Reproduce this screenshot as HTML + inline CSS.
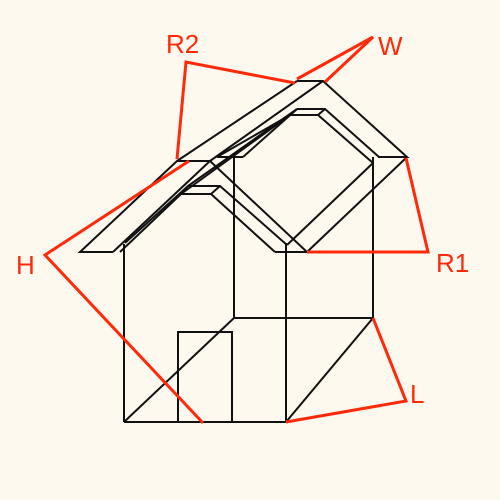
<!DOCTYPE html>
<html><head><meta charset="utf-8">
<style>
html,body{margin:0;padding:0;background:#fef9ee;}
svg{display:block;}
text{font-family:"Liberation Sans",sans-serif;font-size:26px;fill:#ff2a0a;}
</style></head>
<body>
<svg width="500" height="500" viewBox="0 0 500 500">
<rect width="500" height="500" fill="#fef9ee"/>
<g stroke="#111" stroke-width="2" fill="none" stroke-linejoin="miter">
  <polyline points="113,252 80,252 177,161 210,161 307,252 275,252"/>
  <line x1="113" y1="252" x2="210" y2="161"/>
  <line x1="177" y1="161" x2="297" y2="81"/>
  <line x1="210" y1="161" x2="323" y2="81"/>
  <polyline points="297,81 323,81 407,157 378,157"/>
  <polyline points="297,109 325,109 379,157"/>
  <polyline points="297,109 290,115 318,115 373,163"/>
  <line x1="325" y1="109" x2="318" y2="115"/>
  <line x1="290" y1="115" x2="217" y2="157"/>
  <line x1="297" y1="109" x2="243" y2="157"/>
  <line x1="217" y1="157" x2="243" y2="157"/>
  <polyline points="125,243 188,186 220,186 287,245"/>
  <polyline points="188,186 181,194 211,194 275,252"/>
  <line x1="220" y1="186" x2="211" y2="194"/>
  <line x1="181" y1="194" x2="120" y2="252"/>
  <line x1="297" y1="109" x2="188" y2="186"/>
  <line x1="290" y1="115" x2="181" y2="194"/>
  <line x1="407" y1="157" x2="307" y2="252"/>
  <line x1="373" y1="163" x2="287" y2="245"/>
  <line x1="124" y1="244" x2="124" y2="422"/>
  <line x1="286" y1="243" x2="286" y2="422"/>
  <line x1="234" y1="157" x2="234" y2="318"/>
  <line x1="373" y1="157" x2="373" y2="318"/>
  <line x1="124" y1="422" x2="286" y2="422"/>
  <line x1="234" y1="318" x2="373" y2="318"/>
  <line x1="124" y1="422" x2="234" y2="318"/>
  <line x1="286" y1="422" x2="373" y2="318"/>
  <polyline points="178,422 178,332 232,332 232,422"/>
</g>
<g stroke="#ff2a0a" stroke-width="3" fill="none" stroke-linejoin="miter">
  <polyline points="177,159 186,62 295,83"/>
  <polyline points="297,79 373,37 325,82"/>
  <polyline points="406,158 428,252 307,252"/>
  <polyline points="189,161 45,255 203,423"/>
  <polyline points="373,318 406,401 286,422"/>
</g>
<text x="166" y="53">R2</text>
<text x="378" y="55">W</text>
<text x="436" y="272">R1</text>
<text x="16" y="274">H</text>
<text x="410" y="403">L</text>
</svg>
</body></html>
